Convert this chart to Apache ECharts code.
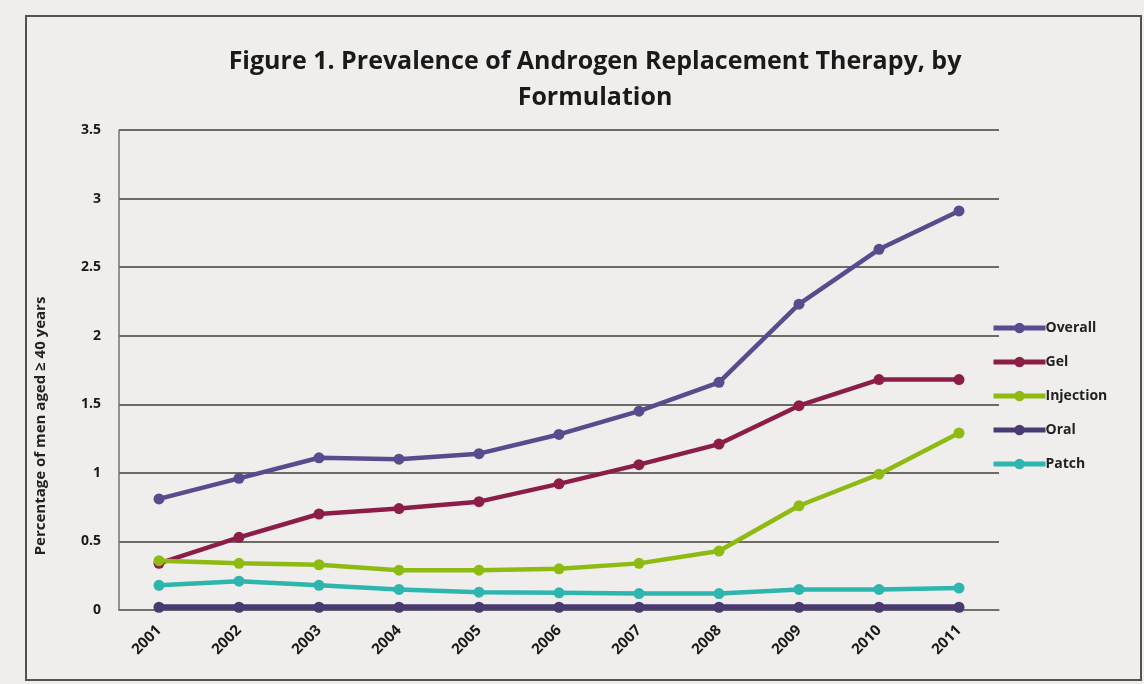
<!DOCTYPE html>
<html>
<head>
<meta charset="utf-8">
<script src="https://cdn.jsdelivr.net/npm/echarts@6/dist/echarts.min.js"></script>
<style>
  html, body { margin: 0; padding: 0; background: #efeeec; }
  #main { width: 1144px; height: 684px; }
</style>
</head>
<body>
<div id="main"></div>
<script>
var myChart = echarts.init(document.getElementById('main'));

var years = ['2001','2002','2003','2004','2005','2006','2007','2008','2009','2010','2011'];
var overall   = [0.81, 0.96, 1.11, 1.10, 1.14, 1.28, 1.45, 1.66, 2.23, 2.63, 2.91];
var gel       = [0.34, 0.53, 0.70, 0.74, 0.79, 0.92, 1.06, 1.21, 1.49, 1.68, 1.68];
var injection = [0.36, 0.34, 0.33, 0.29, 0.29, 0.30, 0.34, 0.43, 0.76, 0.99, 1.29];
var oral      = [0.02, 0.02, 0.02, 0.02, 0.02, 0.02, 0.02, 0.02, 0.02, 0.02, 0.02];
var patch     = [0.18, 0.21, 0.18, 0.15, 0.13, 0.125, 0.12, 0.12, 0.15, 0.15, 0.16];

var colors = ['#5b4a8e', '#8c1d47', '#8fba12', '#4a3a72', '#2eb5ae'];
var names = ['Overall', 'Gel', 'Injection', 'Oral', 'Patch'];
var seriesData = [overall, gel, injection, oral, patch];

var fontFam = '"Open Sans", "Noto Sans", sans-serif';

option = {
    backgroundColor: '#efeeec',
    textStyle: { fontFamily: fontFam },
    title: {
        text: 'Figure 1. Prevalence of Androgen Replacement Therapy, by\nFormulation',
        left: 590,
        top: 39,
        textAlign: 'center',
        textStyle: {
            fontFamily: fontFam,
            fontSize: 25,
            fontWeight: 'bold',
            color: '#1a1a1a',
            lineHeight: 36
        }
    },
    legend: {
        data: names,
        orient: 'vertical',
        left: 986,
        top: 316,
        itemWidth: 52,
        itemHeight: 13,
        itemGap: 20,
        lineStyle: { width: 5 },
        textStyle: { fontSize: 14, fontWeight: 'bold', color: '#222', padding: [0, 0, 0, -5] }
    },
    grid: {
        left: 119,
        right: 145,
        top: 130,
        bottom: 74
    },
    xAxis: {
        type: 'category',
        data: years,
        boundaryGap: true,
        axisTick: { show: false },
        axisLine: { lineStyle: { color: '#77726d', width: 1.5 } },
        axisLabel: {
            rotate: 45,
            margin: 18,
            fontSize: 15,
            fontWeight: 'bold',
            color: '#1a1a1a'
        }
    },
    yAxis: {
        type: 'value',
        min: 0,
        max: 3.5,
        interval: 0.5,
        axisLine: { show: true, lineStyle: { color: '#77726d', width: 1.5 } },
        axisTick: { show: false },
        axisLabel: { fontSize: 14, fontWeight: 'bold', color: '#1a1a1a', margin: 18 },
        splitLine: { lineStyle: { color: '#6e6a66', width: 2 } }
    },
    series: names.map(function (n, i) {
        return {
            name: n,
            type: 'line',
            data: seriesData[i],
            symbol: 'circle',
            symbolSize: 11,
            smooth: false,
            z: i === 3 ? 2 : 3,
            lineStyle: { color: colors[i], width: i === 3 ? 6 : 4.5 },
            itemStyle: { color: colors[i] }
        };
    }),
    graphic: [{
        type: 'rect',
        shape: { x: 26, y: 16, width: 1115, height: 664 },
        style: { fill: 'none', stroke: '#55514d', lineWidth: 2 },
        silent: true
    }, {
        // y axis title, sits a bit below the plot middle as in the original
        type: 'text',
        x: 41,
        y: 426,
        rotation: Math.PI / 2,
        style: {
            text: 'Percentage of men aged \u2265 40 years',
            fontFamily: fontFam,
            fontSize: 15,
            fontWeight: 'bold',
            fill: '#222',
            align: 'center',
            verticalAlign: 'middle'
        },
        silent: true
    }]
};

myChart.setOption(option);

window.onresize = function () {
    myChart.resize();
};
</script>
</body>
</html>
